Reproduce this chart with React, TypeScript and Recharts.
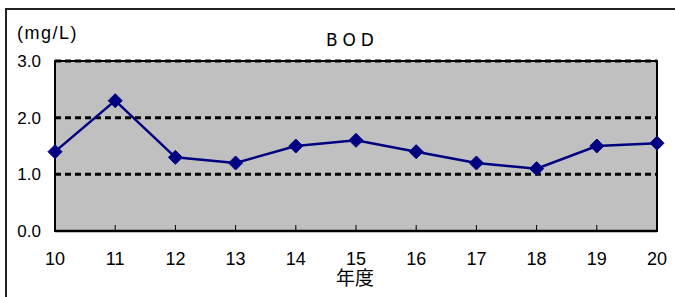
import React from "react"
import {
  CartesianGrid,
  Line,
  LineChart,
  ReferenceArea,
  XAxis,
  YAxis,
} from "recharts"

// BOD yearly averages (mg/L)
const YEARS = ["10", "11", "12", "13", "14", "15", "16", "17", "18", "19", "20"]
const BOD = [1.4, 2.3, 1.3, 1.2, 1.5, 1.6, 1.4, 1.2, 1.1, 1.5, 1.55]
const Y_TICKS = [0, 1, 2, 3]
const GRID_VALUES = [1, 2, 3]

const data = YEARS.map((year, i) => ({ year, bod: BOD[i] }))

const NAVY = "#000080"
const FONT = "'Liberation Sans', Arial, sans-serif"

function Diamond(props: any) {
  const { cx, cy } = props
  if (cx == null || cy == null) return null
  const r = 7
  return (
    <polygon
      points={`${cx},${cy - r} ${cx + r},${cy} ${cx},${cy + r} ${cx - r},${cy}`}
      fill={NAVY}
      stroke={NAVY}
    />
  )
}

function YearTick(props: any) {
  const { x, y, payload } = props
  return (
    <g>
      <line x1={x} y1={y} x2={x} y2={y - 6} stroke="#000" strokeWidth={1} />
      <text x={x} y={y + 34} textAnchor="middle" fontSize={18} fontFamily={FONT} fill="#000">
        {payload.value}
      </text>
    </g>
  )
}

export default function App() {
  return (
    <div style={{ position: "fixed", left: 0, top: 0, width: 675, height: 297, overflow: "hidden", background: "#fff" }}>
      <div
        style={{
          position: "absolute",
          left: 5,
          top: 8,
          width: 680,
          height: 300,
          borderLeft: "2px solid #222",
          borderTop: "2px solid #222",
        }}
      />
      <div style={{ position: "absolute", left: 17, top: 23, fontSize: 18, letterSpacing: 1.5, fontFamily: FONT }}>
        (mg/L)
      </div>
      <div
        style={{
          position: "absolute",
          left: 0,
          width: 705,
          top: 30,
          textAlign: "center",
          fontSize: 17,
          letterSpacing: 5,
          fontFamily: "'DejaVu Sans', sans-serif",
        }}
      >
        BOD
      </div>
      <div
        style={{
          position: "absolute",
          left: 300,
          width: 110,
          top: 266,
          textAlign: "center",
          fontSize: 19,
          fontFamily: "'Noto Sans CJK JP', sans-serif",
          lineHeight: "22px",
        }}
      >
        年度
      </div>
      <div style={{ position: "absolute", left: 0, top: 0 }}>
        <LineChart width={675} height={297} data={data} margin={{ top: 61, right: 18, bottom: 36, left: 5 }}>
          <CartesianGrid
            fill="#C0C0C0"
            vertical={false}
            horizontalValues={GRID_VALUES}
            stroke="#000"
            strokeWidth={3}
            strokeDasharray="6 4"
            strokeOpacity={1}
          />
          <XAxis
            dataKey="year"
            padding={{ left: 0, right: 0 }}
            height={30}
            tickSize={0}
            tickMargin={0}
            tickLine={false}
            axisLine={{ stroke: "#000", strokeWidth: 2.5 }}
            tick={<YearTick />}
            interval={0}
          />
          <YAxis
            domain={[0, 3]}
            ticks={Y_TICKS}
            width={50}
            tickSize={0}
            tickMargin={14}
            tickLine={false}
            axisLine={{ stroke: "#000", strokeWidth: 2 }}
            tickFormatter={(v) => Number(v).toFixed(1)}
            tick={{ fontSize: 17, fill: "#000", fontFamily: FONT }}
          />
          <ReferenceArea
            x1="10"
            x2="20"
            y1={0}
            y2={3}
            fill="none"
            fillOpacity={0}
            stroke="#000"
            strokeWidth={2}
          />
          <Line
            type="linear"
            dataKey="bod"
            stroke={NAVY}
            strokeWidth={2.5}
            dot={<Diamond />}
            activeDot={false}
            isAnimationActive={false}
          />
        </LineChart>
      </div>
    </div>
  )
}
